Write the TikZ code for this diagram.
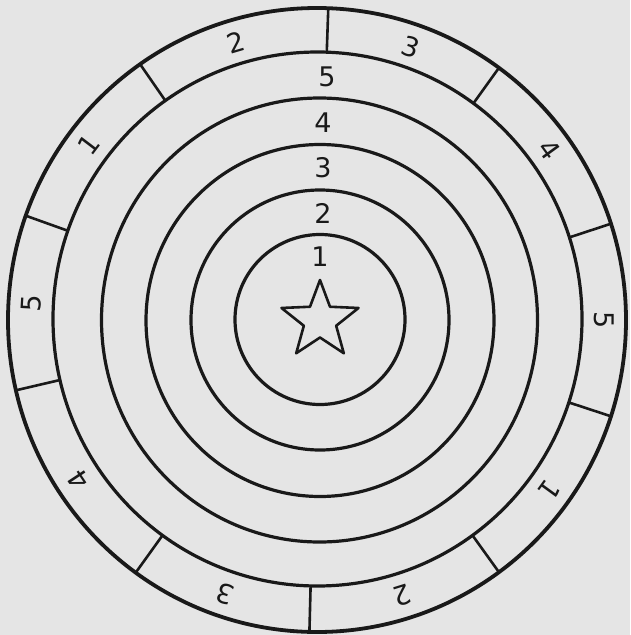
\documentclass[tikz,border=0pt]{standalone}
\usepackage{fontspec}
\setmainfont{DejaVu Sans}
\usetikzlibrary{calc}
\definecolor{bg}{RGB}{229,229,229}
\definecolor{ink}{RGB}{25,25,25}
\begin{document}
\begin{tikzpicture}[x=1pt,y=-1pt,
  ring/.style={draw=ink,line width=3.2pt},
  rim/.style={draw=ink,line width=3.8pt},
  divider/.style={draw=ink,line width=2.6pt},
  digit/.style={text=ink,font=\fontsize{27}{27}\selectfont,inner sep=0pt},
  starline/.style={draw=ink,line width=2.6pt,line join=round}]
\fill[bg] (0,0) rectangle (630,635);
\useasboundingbox (0,0) rectangle (630,635);
\coordinate (c) at (317.5,320);
% circles
\draw[ring] (320,319.5) ellipse [x radius=85,y radius=85];
\draw[ring] (320,320) ellipse [x radius=129,y radius=130];
\draw[ring] (320,320.5) ellipse [x radius=174,y radius=176];
\draw[ring] (319.5,320) ellipse [x radius=218,y radius=222];
\draw[ring] (317.5,319) ellipse [x radius=264.5,y radius=267];
\draw[rim] (317,320) ellipse [x radius=309,y radius=312];
% dividers of the outer band
\foreach \a in {88,54,18,-18,-54,-91.5,-126,-167,-199.5,-235}{
  \draw[divider] ($(c)+(\a:264.5 and -267)$) -- ($(c)+(\a:309 and -312)$);
}
% outer band labels
\foreach \m/\t/\n in {71/3/oa,36/4/ob,0/5/oc,-36/1/od,-72.75/2/oe,-108.75/3/of,-146.5/4/og,-183.25/5/oh,-217.25/1/oi,-253.5/2/oj}{
  \node[digit,rotate=\m-90] (\n) at ($(c)+(\m:287 and -289)$) {\t};
}
% inner ring labels
\node[digit] (r5) at (327,77) {5};
\node[digit] (r4) at (323,123) {4};
\node[digit] (r3) at (323,167.5) {3};
\node[digit] (r2) at (323,213) {2};
\node[digit] (r1) at (320,257) {1};
% star
\coordinate (s) at (320,320.5);
\draw[starline] ($(s)+(90:40.5 and -40.5)$)
  -- ($(s)+(126:17 and -17)$) -- ($(s)+(162:40.5 and -40.5)$)
  -- ($(s)+(198:17 and -17)$) -- ($(s)+(234:40.5 and -40.5)$)
  -- ($(s)+(270:17 and -17)$) -- ($(s)+(306:40.5 and -40.5)$)
  -- ($(s)+(342:17 and -17)$) -- ($(s)+(18:40.5 and -40.5)$)
  -- ($(s)+(54:17 and -17)$) -- cycle;
\end{tikzpicture}
\end{document}
